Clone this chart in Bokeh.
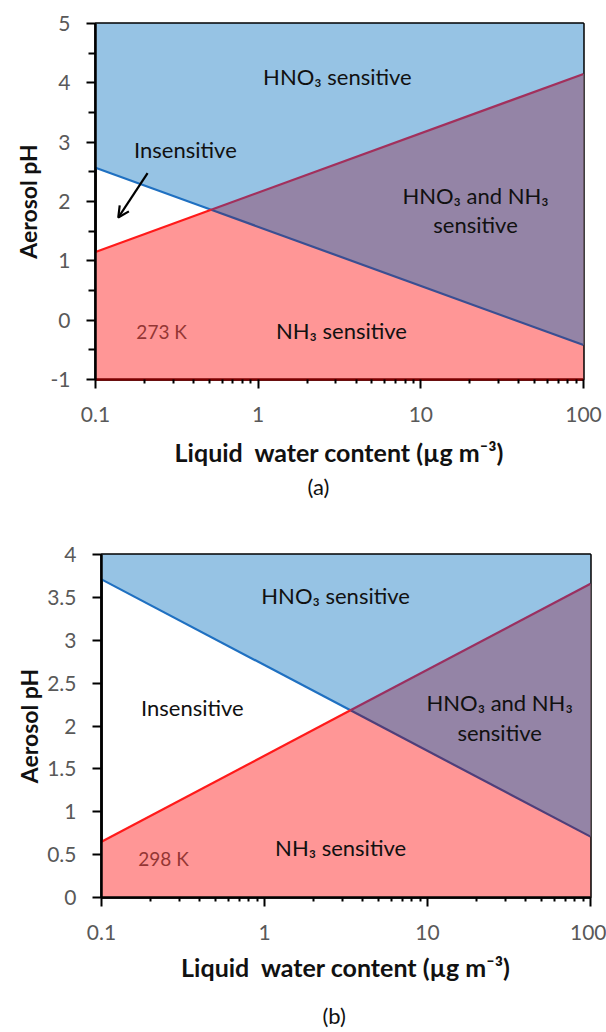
import math
from bokeh.plotting import figure
from bokeh.models import (ColumnDataSource, Arrow, OpenHead, NumeralTickFormatter,
                          FixedTicker, Range1d, Title)
from bokeh.embed import file_html
from bokeh.resources import INLINE
from bokeh.core.properties import value

# ---------------- data ----------------
lwc_ends = [0.1, 100]
x_major_ticks = [0.1, 1, 10, 100]
x_minor_ticks = [0.2, 0.3, 0.4, 0.5, 0.6, 0.7, 0.8, 0.9,
                 2, 3, 4, 5, 6, 7, 8, 9, 20, 30, 40, 50, 60, 70, 80, 90]

# panel (a) 273 K
a_ph_range = [-1, 5]
a_y_ticks = [-1, 0, 1, 2, 3, 4, 5]
a_y_minor = [-0.5, 0.5, 1.5, 2.5, 3.5, 4.5]
a_hno3_boundary = [2.57, -0.42]   # blue line at lwc_ends
a_nh3_boundary = [1.15, 4.15]     # red line at lwc_ends
a_label_text = ["HNO₃ sensitive", "Insensitive", "HNO₃ and NH₃", "sensitive", "NH₃ sensitive"]
a_label_x = [3.07, 0.357, 21.7, 21.7, 3.25]
a_label_y = [4.10, 2.87, 2.10, 1.61, -0.18]
a_temp = "273 K"
a_temp_xy = [0.255, -0.19]
a_arrow = [0.209, 2.48, 0.138, 1.73]

# panel (b) 298 K
b_ph_range = [0, 4]
b_y_ticks = [0, 0.5, 1, 1.5, 2, 2.5, 3, 3.5, 4]
b_hno3_boundary = [3.71, 0.71]
b_nh3_boundary = [0.65, 3.66]
b_label_text = ["HNO₃ sensitive", "Insensitive", "HNO₃ and NH₃", "sensitive", "NH₃ sensitive"]
b_label_x = [2.73, 0.361, 27.7, 27.7, 2.93]
b_label_y = [3.52, 2.21, 2.27, 1.92, 0.58]
b_temp = "298 K"
b_temp_xy = [0.24, 0.45]

x_title = "Liquid\u00a0 water content (µg m⁻³)"
y_title = "Aerosol pH"

BLUE_FILL = "#96C3E4"
RED_FILL = "#FF9696"
PURPLE_FILL = "#9484A6"
FONT = "Lato"


def crossing(xe, blue, red):
    l0, l1 = math.log10(xe[0]), math.log10(xe[1])
    t = (blue[0] - red[0]) / ((blue[0] - red[0]) - (blue[1] - red[1]))
    return 10 ** (l0 + t * (l1 - l0)), red[0] + t * (red[1] - red[0])


def panel(frame_w, frame_h, border_top, border_bottom, border_left, border_right,
          yr, yticks, yminor, blue, red, lab_x, lab_y, lab_t, temp, temp_xy,
          tag, tag_offset, blue2_col, red2_col, xaxis_col, ylab_standoff,
          xlab_standoff, title_standoff):
    p = figure(frame_width=frame_w, frame_height=frame_h, x_axis_type="log",
               x_range=Range1d(lwc_ends[0], lwc_ends[1]), y_range=Range1d(yr[0], yr[1]),
               output_backend="svg", toolbar_location=None,
               min_border_top=border_top, min_border_left=border_left,
               min_border_right=border_right, min_border_bottom=border_bottom)
    p.grid.visible = False
    p.outline_line_color = "black"
    p.outline_line_width = 2.5
    p.background_fill_color = "white"

    xi, yi = crossing(lwc_ends, blue, red)
    x0, x1 = lwc_ends
    # HNO3-sensitive region (above blue line)
    p.patch([x0, xi, x1, x1, x0], [blue[0], yi, blue[1], yr[1], yr[1]],
            fill_color=BLUE_FILL, line_color=None)
    # NH3-sensitive region (below red line)
    p.patch([x0, x0, xi, x1, x1], [yr[0], red[0], yi, red[1], yr[0]],
            fill_color=RED_FILL, line_color=None)
    # both sensitive
    p.patch([xi, x1, x1], [yi, red[1], blue[1]], fill_color=PURPLE_FILL, line_color=None)

    p.line([x0, xi], [blue[0], yi], line_color="#1F70C1", line_width=2.2)
    p.line([xi, x1], [yi, blue[1]], line_color=blue2_col, line_width=2.2)
    p.line([x0, xi], [red[0], yi], line_color="#FF1A1A", line_width=2.2)
    p.line([xi, x1], [yi, red[1]], line_color=red2_col, line_width=2.2)

    src = ColumnDataSource(dict(x=lab_x, y=lab_y, t=lab_t))
    p.text(x="x", y="y", text="t", source=src, text_align="center",
           text_baseline="middle", text_font=value(FONT), text_font_size="22px",
           text_color="#111111")
    p.text(x=[temp_xy[0]], y=[temp_xy[1]], text=[temp], text_align="center",
           text_baseline="middle", text_font=value(FONT), text_font_size="19px",
           text_color="#943634")

    xa = p.xaxis[0]
    xa.ticker = FixedTicker(ticks=x_major_ticks, minor_ticks=x_minor_ticks)
    xa.formatter = NumeralTickFormatter(format="0.[0]")
    ya = p.yaxis[0]
    ya.ticker = FixedTicker(ticks=yticks, minor_ticks=yminor)
    ya.formatter = NumeralTickFormatter(format="0.[0]")
    for ax in (xa, ya):
        ax.axis_line_width = 2.5
        ax.axis_line_color = "black"
        ax.major_tick_in = 0
        ax.major_tick_out = 9
        ax.minor_tick_in = 0
        ax.major_tick_line_width = 2
        ax.minor_tick_line_width = 2
        ax.major_tick_line_color = "black"
        ax.minor_tick_line_color = "black"
        ax.major_label_text_font = FONT
        ax.major_label_text_font_size = "21px"
        ax.major_label_text_color = "#595959"
        ax.axis_label_text_font = FONT
        ax.axis_label_text_font_style = "bold"
        ax.axis_label_text_color = "#111111"
    xa.axis_label_text_font_size = "25px"
    ya.axis_label_text_font_size = "23px"
    xa.axis_line_color = xaxis_col
    xa.minor_tick_out = 4
    ya.minor_tick_out = 7
    xa.major_label_standoff = 18
    ya.major_label_standoff = 16
    xa.axis_label = x_title
    ya.axis_label = y_title
    xa.axis_label_standoff = xlab_standoff
    ya.axis_label_standoff = ylab_standoff

    t = Title(text=tag, align="left", offset=tag_offset, text_font=FONT,
              text_font_size="22px", text_font_style="normal", text_color="#111111",
              standoff=title_standoff)
    p.add_layout(t, "below")
    return p


pa = panel(488, 356, 23, 131, 95, 23, a_ph_range, a_y_ticks, a_y_minor,
           a_hno3_boundary, a_nh3_boundary, a_label_x, a_label_y, a_label_text,
           a_temp, a_temp_xy, "(a)", 212, "#3A4F92", "#A2305C", "#7A0000", 6, 12, 2)
pa.add_layout(Arrow(end=OpenHead(size=11, line_width=2.2, line_color="black"),
                    x_start=a_arrow[0], y_start=a_arrow[1],
                    x_end=a_arrow[2], y_end=a_arrow[3],
                    line_width=2.2, line_color="black"))

pb = panel(489, 343, 44, 135, 101, 16, b_ph_range, b_y_ticks, [],
           b_hno3_boundary, b_nh3_boundary, b_label_x, b_label_y, b_label_text,
           b_temp, b_temp_xy, "(b)", 221, "#4E3F7A", "#9A3060", "black", 1, 9, 30)

open("out.html", "w").write(file_html([pa, pb], INLINE))
